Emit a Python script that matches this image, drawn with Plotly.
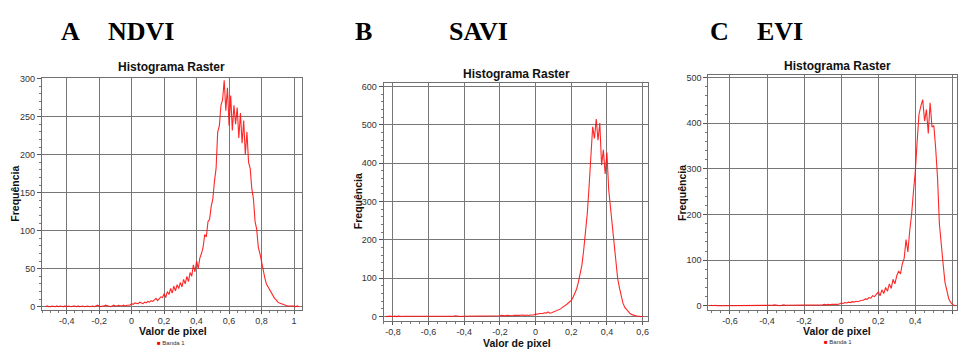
import numpy as np
import plotly.graph_objects as go

# ---------------- data ----------------
BIN_W = 0.01

ndvi_x0 = -0.53
ndvi_y = [
    0, 1, 0, 0, 1, 0, 0, 1, 0, 1, 0, 0, 1, 0, 1, 0, 0, 1, 1, 0, 1, 0, 1, 1,
    0, 1, 1, 0, 1, 1, 0, 1, 2, 1, 0, 1, 1, 2, 1, 1, 0, 1, 2, 1, 1, 2, 1, 1, 2, 1, 2, 2, 2,
    4, 3, 5, 4, 4, 6, 5, 4, 6, 5,
    7, 6, 8, 7, 9, 11, 8, 10, 13, 12,
    17, 12, 20, 16, 24, 18, 27, 21, 29, 24,
    32, 26, 36, 30, 40, 33, 45, 40, 55, 46,
    60, 50, 64, 70, 78, 95, 92, 112, 115, 132,
    142, 165, 182, 230, 238, 265, 272, 298, 258, 288,
    238, 278, 232, 265, 240, 262, 222, 255, 215, 245,
    200, 230, 190, 182, 155, 142, 112, 102, 78, 70,
    58, 48, 38, 30, 26, 21, 17, 13, 11, 9,
    6, 5, 4, 3, 2, 2, 1, 1, 1, 1,
    1, 0, 1, 0,
]

savi_x0 = -0.84
savi_y = [
    1, 0, 1, 0, 0, 1, 0, 1, 0, 0, 1, 1, 0, 1, 0, 1, 0, 1, 1, 0, 1, 0, 0, 1, 1, 0, 1, 0, 1, 1, 0, 1, 1, 0,
    1, 1, 0, 1, 1, 2, 1, 1, 0, 1, 1, 2, 1, 1, 2, 1, 1, 1, 2, 1, 2, 1, 1, 2, 1, 2, 2, 1, 2, 2,
    2, 3, 2, 2, 3, 2, 3, 2, 3, 3, 2, 3, 4, 3, 3, 4, 3, 4, 4, 4,
    7, 6, 8, 7, 8, 10, 9, 12, 9, 10,
    12, 13, 15, 17, 20, 24, 26, 30, 34, 38,
    42, 50, 60, 72, 90, 110, 135, 175, 215, 270,
    340, 430, 495, 465, 515, 460, 505, 395, 435, 372,
    428, 330, 280, 235, 185, 140, 100, 75, 52, 35,
    24, 18, 12, 8, 5, 3, 2, 1, 1, 0, 1,
]

evi_x0 = -0.71
evi_y = [
    0, 1, 0, 1, 0, 0, 1, 0, 1, 1, 0, 1, 0, 1, 0, 1, 1, 0, 1, 0, 1, 1, 0, 1, 1, 0, 1, 1, 0, 1,
    1, 1, 0, 1, 1, 2, 1, 1, 0, 1, 2, 1, 1, 1, 2, 1, 1, 2, 1, 1, 2, 1, 2, 1, 2, 2, 1, 2, 2, 1,
    2, 2, 3, 2, 3, 2, 3, 3, 2, 3, 4,
    6, 5, 7, 6, 8, 7, 9, 8, 10, 9,
    11, 12, 12, 15, 14, 18, 17, 22, 20, 26,
    30, 22, 35, 27, 40, 32, 48, 38, 58, 48,
    66, 76, 70, 92, 104, 145, 118, 165, 200, 250,
    295, 360, 420, 438, 452, 405, 430, 378, 445, 392,
    395, 345, 280, 180, 130, 92, 52, 30, 16, 8,
    3, 1, 0,
]

ndvi_tickvals = [-0.4, -0.2, 0, 0.2, 0.4, 0.6, 0.8, 1.0]
ndvi_ticktext = ["-0,4", "-0,2", "0", "0,2", "0,4", "0,6", "0,8", "1"]
savi_tickvals = [-0.8, -0.6, -0.4, -0.2, 0, 0.2, 0.4, 0.6]
savi_ticktext = ["-0,8", "-0,6", "-0,4", "-0,2", "0", "0,2", "0,4", "0,6"]
evi_tickvals = [-0.6, -0.4, -0.2, 0, 0.2, 0.4, 0.6]
evi_ticktext = ["-0,6", "-0,4", "-0,2", "0", "0,2", "0,4", "0,6"]

panel_letters = ["A", "B", "C"]
panel_names = ["NDVI", "SAVI", "EVI"]
chart_title = "Histograma Raster"
x_title = "Valor de pixel"
y_title = "Frequência"
legend_name = "Banda 1"


def bins(x0, n):
    return np.round(x0 + BIN_W * np.arange(n), 3)


# ---------------- figure ----------------
W, H = 958, 352
fig = go.Figure()

LINE = dict(color="#ff1010", width=1.1)
fig.add_trace(go.Scatter(x=bins(ndvi_x0, len(ndvi_y)), y=ndvi_y, mode="lines",
                         line=LINE, xaxis="x", yaxis="y", showlegend=False, opacity=0.9))
fig.add_trace(go.Scatter(x=bins(savi_x0, len(savi_y)), y=savi_y, mode="lines",
                         line=LINE, xaxis="x2", yaxis="y2", showlegend=False, opacity=0.9))
fig.add_trace(go.Scatter(x=bins(evi_x0, len(evi_y)), y=evi_y, mode="lines",
                         line=LINE, xaxis="x3", yaxis="y3", showlegend=False, opacity=0.9))

TICKFONT = dict(family="Liberation Sans, Arial, sans-serif", size=9, color="#333333")
GRID = "#777777"
FRAME = "#707070"


def px_x(p):
    return p / W


def px_y(p):
    return 1 - p / H


def xaxis(left, right, rng, tv, tt, anchor):
    return dict(domain=[px_x(left), px_x(right)], range=rng, anchor=anchor,
                tickvals=tv, ticktext=tt, tickfont=TICKFONT,
                showgrid=True, gridcolor=GRID, gridwidth=1, zeroline=False,
                showline=True, linecolor=FRAME, linewidth=1, mirror=True,
                ticks="outside", ticklen=3, tickcolor="#555555",
                minor=dict(dtick=0.05, ticks="outside", ticklen=2, tickcolor="#777777", showgrid=False),
                fixedrange=True)


def yaxis(top, bottom, rng, dtick, mdt, anchor):
    return dict(domain=[px_y(bottom), px_y(top)], range=rng, anchor=anchor,
                tick0=0, dtick=dtick, tickfont=TICKFONT,
                showgrid=True, gridcolor=GRID, gridwidth=1, zeroline=False,
                showline=True, linecolor=FRAME, linewidth=1, mirror=True,
                ticks="outside", ticklen=4, tickcolor="#555555",
                minor=dict(dtick=mdt, ticks="outside", ticklen=2, tickcolor="#777777", showgrid=False),
                fixedrange=True)


fig.update_layout(
    width=W, height=H,
    margin=dict(l=0, r=0, t=0, b=0),
    paper_bgcolor="white", plot_bgcolor="white",
    xaxis=xaxis(42, 302, [-0.552, 1.047], ndvi_tickvals, ndvi_ticktext, "y"),
    yaxis=yaxis(75, 311, [-3.9, 301.3], 50, 10, "x"),
    xaxis2=xaxis(384, 649, [-0.852, 0.632], savi_tickvals, savi_ticktext, "y2"),
    yaxis2=yaxis(80, 322, [-10.3, 610.3], 100, 20, "x2"),
    xaxis3=xaxis(709, 958, [-0.717, 0.625], evi_tickvals, evi_ticktext, "y3"),
    yaxis3=yaxis(72, 311, [-8.6, 506.5], 100, 20, "x3"),
)

ann = []
BIG = dict(family="Liberation Serif, Times New Roman, serif", size=26, color="#000000")
big_pos = [((71, 141), 28), ((363.5, 478.5), 28), ((720, 780.5), 28)]
for i, ((lx, nx), yy) in enumerate(big_pos):
    ann.append(dict(x=px_x(lx), y=px_y(yy), text="<b>%s</b>" % panel_letters[i], font=BIG))
    ann.append(dict(x=px_x(nx), y=px_y(yy), text="<b>%s</b>" % panel_names[i], font=BIG))

TFONT = dict(family="Liberation Sans, Arial, sans-serif", size=12, color="#111111")
AFONT = dict(family="Liberation Sans, Arial, sans-serif", size=10.5, color="#111111")
for (tx, ty) in [(172, 64), (517, 71), (838, 63)]:
    ann.append(dict(x=px_x(tx), y=px_y(ty), text="<b>%s</b>" % chart_title, font=TFONT))
for (tx, ty) in [(173, 333), (518, 344.5), (838, 333)]:
    ann.append(dict(x=px_x(tx), y=px_y(ty), text="<b>%s</b>" % x_title, font=AFONT))
for (tx, ty) in [(15, 193), (358, 201), (682, 192)]:
    ann.append(dict(x=px_x(tx), y=px_y(ty), text="<b>%s</b>" % y_title, font=AFONT, textangle=-90))

LFONT = dict(family="Liberation Sans, Arial, sans-serif", size=6, color="#333333")
for (tx, ty) in [(171, 345), (839, 344)]:
    ann.append(dict(x=px_x(tx), y=px_y(ty),
                    text="<span style='color:#ff0000'>■</span> %s" % legend_name, font=LFONT))

for a in ann:
    a.update(xref="paper", yref="paper", showarrow=False, xanchor="center", yanchor="middle")
fig.update_layout(annotations=ann)

fig.write_html("out.html", config={"displayModeBar": False},
               post_script="document.body.style.margin='0';document.body.style.overflow='hidden';")
